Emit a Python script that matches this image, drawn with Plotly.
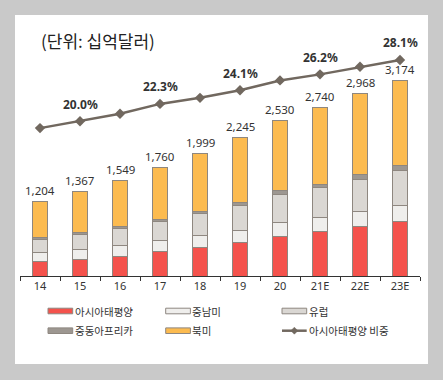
import plotly.graph_objects as go

# ---------------- data ----------------
years = ["14", "15", "16", "17", "18", "19", "20", "21E", "22E", "23E"]
totals = [1204, 1367, 1549, 1760, 1999, 2245, 2530, 2740, 2968, 3174]
asia_pacific = [230, 273, 325, 392, 462, 541, 643, 718, 807, 892]
latin_america = [157, 159, 173, 185, 190, 198, 230, 233, 237, 257]
europe = [213, 237, 271, 312, 358, 413, 453, 482, 531, 562]
mideast_africa = [20, 34, 40, 33, 38, 47, 66, 60, 83, 83]
north_america = [584, 664, 740, 838, 951, 1046, 1138, 1247, 1310, 1380]
apac_share = [19.1, 20.0, 21.0, 22.3, 23.1, 24.1, 25.4, 26.2, 27.2, 28.1]
share_labels = ["", "20.0%", "", "22.3%", "", "24.1%", "", "26.2%", "", "28.1%"]

series_names = ["아시아태평양", "중남미", "유럽", "중동아프리카", "북미"]
series_values = [asia_pacific, latin_america, europe, mideast_africa, north_america]
series_colors = ["#F4524C", "#EFEEEC", "#DAD7D3", "#9D9791", "#FCBB50"]
line_name = "아시아태평양 비중"
line_color = "#71685F"
outline = "#8E8780"
text_color = "#333333"
page_bg = "#C9C9C9"
FONT = "Noto Sans, Noto Sans CJK KR, sans-serif"
KFONT = "Noto Sans CJK KR, sans-serif"

# ---------------- layout geometry ----------------
W, H = 443, 380
L, R, T, B = 20, 23, 30, 104
PW, PH = W - L - R, H - T - B


def px(x):
    return (x - L) / PW


def py(y):
    return (H - B - y) / PH


fig = go.Figure()

for name, vals, col in zip(series_names, series_values, series_colors):
    fig.add_trace(go.Bar(
        x=years, y=vals, name=name,
        marker=dict(color=col, line=dict(color=outline, width=1)),
        showlegend=False, hoverinfo="skip",
    ))

fig.add_trace(go.Scatter(
    x=years, y=apac_share, name=line_name, yaxis="y2",
    mode="lines+markers",
    line=dict(color=line_color, width=2.5),
    marker=dict(symbol="diamond", size=8, color=line_color),
    showlegend=False, hoverinfo="skip",
))

annotations = []
# totals above bars (category index used as x)
for i, tot in enumerate(totals):
    annotations.append(dict(
        x=i, y=tot, xref="x", yref="y", text=f"{tot:,}", showarrow=False,
        yanchor="middle", yshift=11,
        font=dict(family=FONT, size=11.5, color=text_color),
    ))
# share labels above line
for i, (v, lab) in enumerate(zip(apac_share, share_labels)):
    if lab:
        annotations.append(dict(
            x=i, y=v, xref="x", yref="y2", text=f"<b>{lab}</b>", showarrow=False,
            yanchor="middle", yshift=17,
            font=dict(family=FONT, size=12, color=text_color),
        ))
# unit title
annotations.append(dict(
    x=px(39), y=py(41), xref="paper", yref="paper", text="(단위: 십억달러)",
    showarrow=False, xanchor="left", yanchor="middle",
    font=dict(family=KFONT, size=17, color="#222222"),
))

shapes = [dict(
    type="rect", xref="paper", yref="paper", layer="below",
    x0=px(15), x1=px(428), y0=py(364), y1=py(15),
    fillcolor="white", line=dict(width=0),
)]

# manual legend
col_x = [48, 165.7, 282]
row_y = [311, 330.7]
sw_w = 24.7
legend_items = list(zip(series_names, series_colors)) + [(line_name, None)]
for i, (name, col) in enumerate(legend_items):
    cx = col_x[i % 3]
    cy = row_y[i // 3]
    if col is not None:
        shapes.append(dict(
            type="rect", xref="paper", yref="paper",
            x0=px(cx), x1=px(cx + sw_w), y0=py(cy + 2.8), y1=py(cy - 2.8),
            fillcolor=col, line=dict(color=outline, width=1),
        ))
    else:
        shapes.append(dict(
            type="line", xref="paper", yref="paper",
            x0=px(cx), x1=px(cx + sw_w), y0=py(cy), y1=py(cy),
            line=dict(color=line_color, width=2.5),
        ))
        mx = cx + sw_w / 2
        d = 3.5
        shapes.append(dict(
            type="path", xref="paper", yref="paper",
            path=(f"M {px(mx)},{py(cy - d)} L {px(mx + d)},{py(cy)} "
                  f"L {px(mx)},{py(cy + d)} L {px(mx - d)},{py(cy)} Z"),
            fillcolor=line_color, line=dict(color=line_color, width=0.5),
        ))
    annotations.append(dict(
        x=px(cx + sw_w), y=py(cy), xref="paper", yref="paper", text=name,
        showarrow=False, xanchor="left", yanchor="middle",
        font=dict(family=KFONT, size=10.5, color=text_color),
    ))

# secondary axis range (percent) so the line sits where the reference draws it
y2_lo = 20 - (H - B - 121.3) / 7.57
y2_hi = 20 + (121.3 - T) / 7.57

fig.update_layout(
    width=W, height=H,
    margin=dict(l=L, r=R, t=T, b=B),
    paper_bgcolor=page_bg,
    plot_bgcolor="rgba(0,0,0,0)",
    barmode="stack", bargap=0.61,
    showlegend=False,
    font=dict(family=FONT, color=text_color),
    xaxis=dict(
        type="category", showline=True, linecolor="#333333", linewidth=1,
        ticks="outside", ticklen=4, tickcolor="#333333", tickson="boundaries",
        showgrid=False, tickfont=dict(family=FONT, size=11, color=text_color),
        range=[-0.5, len(years) - 0.5], fixedrange=True,
    ),
    yaxis=dict(range=[0, 4000], visible=False, fixedrange=True),
    yaxis2=dict(range=[y2_lo, y2_hi], overlaying="y", visible=False, fixedrange=True),
    annotations=annotations,
    shapes=shapes,
)

fig.write_html(
    "out.html",
    config={"displayModeBar": False},
    post_script=(
        "document.body.style.margin='0';"
        "document.body.style.padding='0';"
        f"document.body.style.background='{page_bg}';"
    ),
)
